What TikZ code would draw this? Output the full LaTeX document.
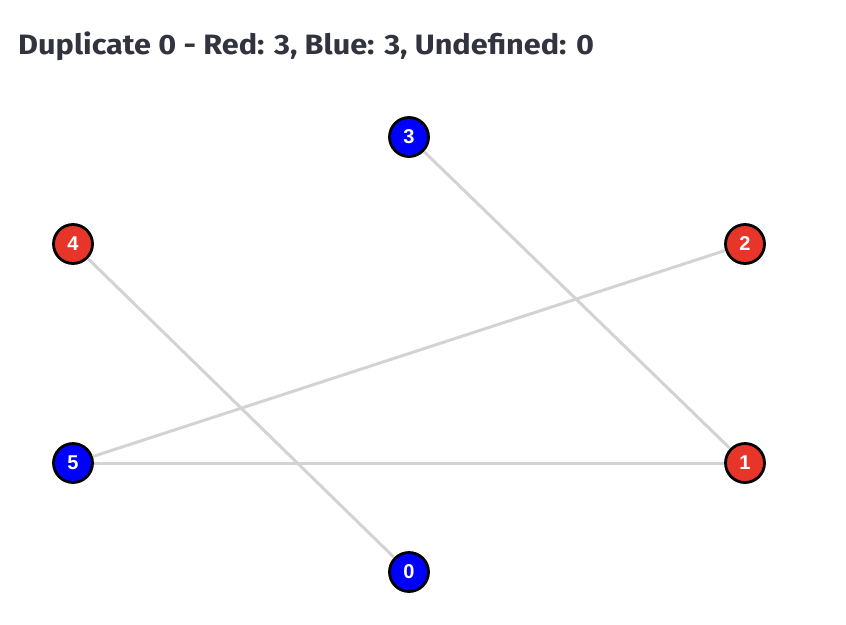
\documentclass[tikz,border=0pt]{standalone}
\usepackage{fontspec}
\setmainfont{Liberation Sans}
\newfontfamily\titlefont{Fira Sans}
\usetikzlibrary{positioning,calc}
\definecolor{Ink}{HTML}{31333F}
\definecolor{RedNode}{HTML}{E8352A}
\definecolor{BlueNode}{HTML}{0000FF}
\definecolor{EdgeGrey}{HTML}{D3D3D3}
\begin{document}
\begin{tikzpicture}[x=1pt,y=-1pt,
    vertex/.style={circle,draw=black,line width=2.8pt,minimum size=39pt,inner sep=0pt,text=white,font=\fontsize{20}{20}\selectfont\bfseries},
    redv/.style={vertex,fill=RedNode},
    bluev/.style={vertex,fill=BlueNode},
    edge/.style={EdgeGrey,line width=3pt}]
        \useasboundingbox (0,0) rectangle (846,624);
        \node[anchor=base west,text=Ink,inner sep=0pt,font=\titlefont\fontsize{28}{28}\selectfont\bfseries] (title) at (18,54) {\scalebox{1.095}[1]{Duplicate 0 - Red: 3, Blue: 3, Undefined: 0}};
        \node[bluev] (n3) at (409,137) {3};
        \node[redv] (n4) at (73,244) {4};
        \node[redv] (n2) at (745,244) {2};
        \node[bluev] (n5) at (73,463) {5};
        \node[redv] (n1) at (745,463) {1};
        \node[bluev] (n0) at (409,572) {0};
        \draw[edge] (n3) -- (n1);
        \draw[edge] (n4) -- (n0);
        \draw[edge] (n2) -- (n5);
        \draw[edge] (n5) -- (n1);
      \end{tikzpicture}
\end{document}
